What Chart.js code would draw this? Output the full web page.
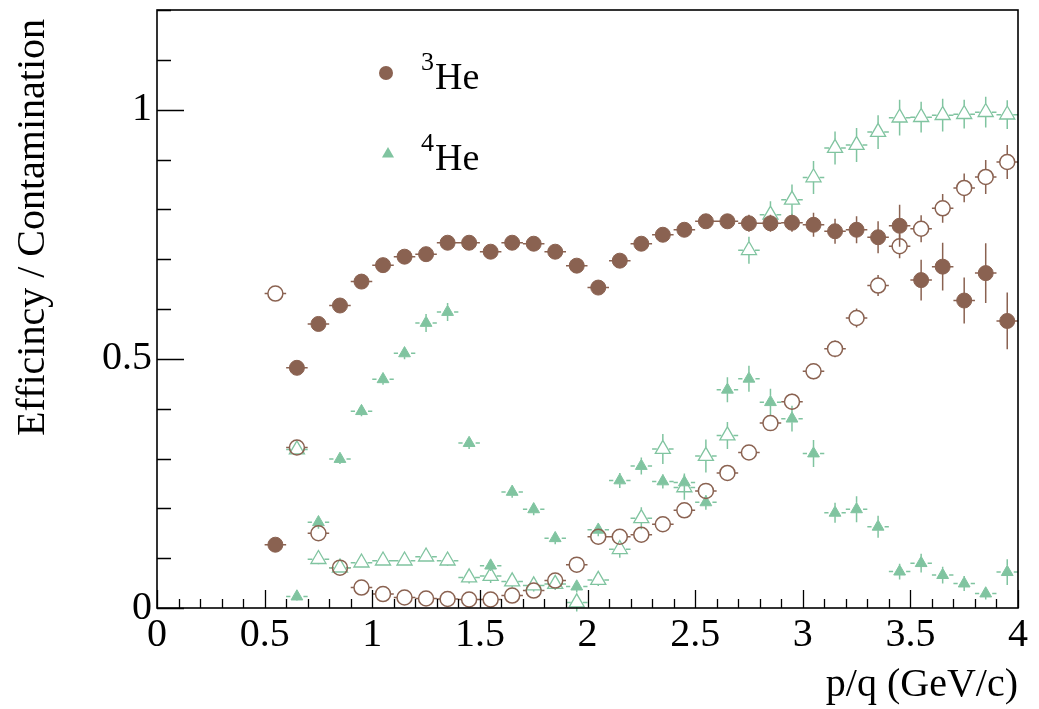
<!DOCTYPE html>
<html>
<head>
<meta charset="utf-8">
<script src="https://cdn.jsdelivr.net/npm/chart.js@4.4.0/dist/chart.umd.min.js"></script>
<style>
  html, body { margin: 0; padding: 0; background: #fff; }
</style>
</head>
<body>
<canvas id="chart" width="1039" height="709"></canvas>
<script>
// bin centres in p/q (GeV/c), bin half width 0.05
const pq = [0.55, 0.65, 0.75, 0.85, 0.95, 1.05, 1.15, 1.25, 1.35, 1.45, 1.55, 1.65, 1.75, 1.85, 1.95,
            2.05, 2.15, 2.25, 2.35, 2.45, 2.55, 2.65, 2.75, 2.85, 2.95, 3.05, 3.15, 3.25, 3.35, 3.45,
            3.55, 3.65, 3.75, 3.85, 3.95];
const binHalf = 0.05;

// 3He efficiency (filled circles)
const eff3He = [0.127, 0.482, 0.570, 0.607, 0.655, 0.688, 0.705, 0.710, 0.733, 0.733, 0.715, 0.733, 0.731, 0.715, 0.687,
                0.643, 0.697, 0.731, 0.749, 0.759, 0.776, 0.776, 0.772, 0.772, 0.773, 0.769, 0.756, 0.759, 0.744, 0.767,
                0.658, 0.685, 0.617, 0.672, 0.576];
const eff3HeErr = [0.008, 0.008, 0.008, 0.008, 0.008, 0.008, 0.008, 0.008, 0.008, 0.008, 0.008, 0.008, 0.008, 0.008, 0.009,
                   0.009, 0.009, 0.009, 0.010, 0.010, 0.012, 0.014, 0.017, 0.017, 0.018, 0.024, 0.025, 0.027, 0.032, 0.042,
                   0.041, 0.048, 0.046, 0.060, 0.057];

// 3He contamination (open circles)
const cont3He = [0.631, 0.322, 0.150, 0.081, 0.041, 0.028, 0.021, 0.019, 0.018, 0.017, 0.017, 0.025, 0.035, 0.055, 0.087,
                 0.143, 0.143, 0.147, 0.168, 0.196, 0.235, 0.271, 0.312, 0.371, 0.414, 0.475, 0.520, 0.582, 0.647, 0.726,
                 0.761, 0.802, 0.843, 0.865, 0.895];
const cont3HeErr = [0.008, 0.008, 0.008, 0.008, 0.008, 0.008, 0.008, 0.008, 0.008, 0.008, 0.008, 0.008, 0.008, 0.008, 0.008,
                    0.009, 0.009, 0.010, 0.010, 0.011, 0.012, 0.013, 0.014, 0.015, 0.016, 0.016, 0.017, 0.019, 0.021, 0.024,
                    0.027, 0.029, 0.029, 0.034, 0.034];

// 4He efficiency (filled triangles)
const eff4He = [null, 0.023, 0.172, 0.299, 0.395, 0.459, 0.511, 0.572, 0.594, 0.331, 0.085, 0.233, 0.198, 0.140, 0.043,
                0.157, 0.256, 0.285, 0.254, 0.252, 0.212, 0.438, 0.460, 0.413, 0.380, 0.310, 0.191, 0.198, 0.163, 0.073,
                0.090, 0.066, 0.049, 0.029, 0.072];
const eff4HeErr = [null, 0.008, 0.013, 0.010, 0.010, 0.011, 0.012, 0.018, 0.018, 0.012, 0.011, 0.012, 0.012, 0.012, 0.012,
                   0.013, 0.015, 0.017, 0.014, 0.018, 0.015, 0.025, 0.026, 0.027, 0.026, 0.027, 0.020, 0.026, 0.022, 0.016,
                   0.019, 0.017, 0.015, 0.012, 0.026];

// 4He contamination (open triangles)
const cont4He = [null, 0.318, 0.098, 0.081, 0.091, 0.095, 0.095, 0.103, 0.095, 0.061, 0.064, 0.053, 0.045, 0.048, 0.011,
                 0.056, 0.118, 0.180, 0.319, 0.242, 0.305, 0.346, 0.718, 0.789, 0.819, 0.864, 0.923, 0.929, 0.955, 0.984,
                 0.985, 0.989, 0.991, 0.995, 0.990];
const cont4HeErr = [null, 0.010, 0.010, 0.008, 0.008, 0.008, 0.008, 0.008, 0.010, 0.012, 0.014, 0.012, 0.012, 0.012, 0.018,
                    0.012, 0.017, 0.022, 0.030, 0.025, 0.033, 0.027, 0.027, 0.027, 0.031, 0.033, 0.033, 0.034, 0.034, 0.036,
                    0.031, 0.033, 0.029, 0.031, 0.029];

const xTickValues = [0, 0.5, 1, 1.5, 2, 2.5, 3, 3.5, 4];
const xTickLabels = ["0", "0.5", "1", "1.5", "2", "2.5", "3", "3.5", "4"];
const yTickValues = [0, 0.5, 1];
const yTickLabels = ["0", "0.5", "1"];
const legendMass = ["3", "4"];
const legendName = "He";

const brown = "#8a6251";
const green = "#80c4a0";
const serif = "'Liberation Serif', 'Times New Roman', serif";

const toPoints = vals => pq.map((x, i) => ({ x: x, y: vals[i] }));

// error bars, drawn under the markers and leaving a gap round open ones
const errorBars = {
  id: "errorBars",
  beforeDatasetsDraw(chart) {
    const ctx = chart.ctx;
    const xs = chart.scales.x, ys = chart.scales.y;
    chart.data.datasets.forEach(ds => {
      ctx.save();
      ctx.strokeStyle = ds.borderColor;
      ctx.lineWidth = 1.5;
      ctx.beginPath();
      ds.data.forEach((p, i) => {
        if (p.y == null) return;
        const px = xs.getPixelForValue(p.x);
        const py = ys.getPixelForValue(p.y);
        const xl = xs.getPixelForValue(p.x - binHalf);
        const xr = xs.getPixelForValue(p.x + binHalf);
        const yt = ys.getPixelForValue(p.y + ds.errors[i]);
        const yb = ys.getPixelForValue(p.y - ds.errors[i]);
        const g = ds.gap;
        if (px - g.x > xl) { ctx.moveTo(xl, py); ctx.lineTo(px - g.x, py); }
        if (px + g.x < xr) { ctx.moveTo(px + g.x, py); ctx.lineTo(xr, py); }
        if (py - g.up > yt) { ctx.moveTo(px, yt); ctx.lineTo(px, py - g.up); }
        if (py + g.down < yb) { ctx.moveTo(px, py + g.down); ctx.lineTo(px, yb); }
      });
      ctx.stroke();
      ctx.restore();
    });
  }
};

// ROOT style frame with inward ticks, y title and legend
const frame = {
  id: "frame",
  afterDraw(chart) {
    const ctx = chart.ctx;
    const a = chart.chartArea;
    const xs = chart.scales.x, ys = chart.scales.y;
    ctx.save();
    ctx.strokeStyle = "#000";
    ctx.lineWidth = 1.3;
    ctx.beginPath();
    for (let i = 0; i <= 12; i++) {
      const py = Math.round(ys.getPixelForValue(i / 10)) + 0.5;
      const len = i % 5 === 0 ? 27 : 14;
      ctx.moveTo(a.left, py); ctx.lineTo(a.left + len, py);
    }
    for (let i = 0; i <= 40; i++) {
      const px = Math.round(xs.getPixelForValue(i / 10)) + 0.5;
      const len = i % 5 === 0 ? 18 : 9;
      ctx.moveTo(px, a.bottom); ctx.lineTo(px, a.bottom - len);
    }
    ctx.stroke();
    ctx.lineWidth = 1.6;
    ctx.strokeRect(a.left, a.top, a.right - a.left, a.bottom - a.top);

    // y axis title, right aligned at the top like ROOT
    ctx.fillStyle = "#000";
    ctx.font = "40px " + serif;
    ctx.translate(33, 19);
    ctx.rotate(-Math.PI / 2);
    ctx.textAlign = "right";
    ctx.textBaseline = "middle";
    ctx.fillText("Efficincy / Contamination", 0, 0);
    ctx.restore();

    // legend
    ctx.save();
    ctx.fillStyle = brown;
    Chart.helpers.drawPoint(ctx, { pointStyle: "circle", radius: 7, borderWidth: 0 }, 386, 73);
    ctx.fillStyle = green;
    Chart.helpers.drawPoint(ctx, { pointStyle: "triangle", radius: 7, borderWidth: 0 }, 388, 154);
    ctx.fillStyle = "#000";
    ctx.textAlign = "left";
    ctx.textBaseline = "alphabetic";
    const baselines = [89, 170];
    legendMass.forEach((m, i) => {
      ctx.font = "26px " + serif;
      ctx.fillText(m, 421, baselines[i] - 19);
      ctx.font = "38px " + serif;
      ctx.fillText(legendName, 435, baselines[i]);
    });
    ctx.restore();
  }
};

new Chart(document.getElementById("chart"), {
  type: "scatter",
  data: {
    datasets: [
      {
        label: "3He efficiency",
        data: toPoints(eff3He),
        errors: eff3HeErr,
        gap: { x: 0, up: 0, down: 0 },
        pointStyle: "circle",
        pointRadius: 7.5,
        borderWidth: 1,
        borderColor: brown,
        backgroundColor: brown
      },
      {
        label: "3He contamination",
        data: toPoints(cont3He),
        errors: cont3HeErr,
        gap: { x: 7.5, up: 7.5, down: 7.5 },
        pointStyle: "circle",
        pointRadius: 7.5,
        borderWidth: 1.5,
        borderColor: brown,
        backgroundColor: "rgba(0,0,0,0)"
      },
      {
        label: "4He efficiency",
        data: toPoints(eff4He),
        errors: eff4HeErr,
        gap: { x: 6.5, up: 6.5, down: 3.5 },
        pointStyle: "triangle",
        pointRadius: 6.8,
        borderWidth: 1,
        borderColor: green,
        backgroundColor: green
      },
      {
        label: "4He contamination",
        data: toPoints(cont4He),
        errors: cont4HeErr,
        gap: { x: 6, up: 8.7, down: 4.4 },
        pointStyle: "triangle",
        pointRadius: 8.7,
        borderWidth: 1.3,
        borderColor: green,
        backgroundColor: "rgba(0,0,0,0)"
      }
    ]
  },
  options: {
    responsive: false,
    animation: false,
    devicePixelRatio: 1,
    events: [],
    layout: { padding: { top: 8, right: 21, bottom: 0, left: 0 } },
    plugins: { legend: { display: false }, tooltip: { enabled: false } },
    scales: {
      x: {
        type: "linear",
        min: 0,
        max: 4,
        grid: { display: false, drawTicks: false },
        border: { display: false },
        afterBuildTicks: s => { s.ticks = xTickValues.map(v => ({ value: v })); },
        afterFit: s => { s.height = 101; s.paddingLeft = 0; s.paddingRight = 0; },
        ticks: {
          autoSkip: false,
          maxRotation: 0,
          padding: 3,
          color: "#000",
          font: { family: serif, size: 40 },
          callback: (v, i) => xTickLabels[i]
        },
        title: {
          display: true,
          text: "p/q (GeV/c)",
          align: "end",
          color: "#000",
          font: { family: serif, size: 40 },
          padding: { top: 0, bottom: 0 }
        }
      },
      y: {
        type: "linear",
        min: 0,
        max: 1.2,
        grid: { display: false, drawTicks: false },
        border: { display: false },
        afterBuildTicks: s => { s.ticks = yTickValues.map(v => ({ value: v })); },
        afterFit: s => { s.width = 157; s.paddingTop = 0; s.paddingBottom = 0; },
        ticks: {
          autoSkip: false,
          padding: 5,
          color: "#000",
          font: { family: serif, size: 40 },
          callback: (v, i) => yTickLabels[i]
        }
      }
    }
  },
  plugins: [errorBars, frame]
});
</script>
</body>
</html>
